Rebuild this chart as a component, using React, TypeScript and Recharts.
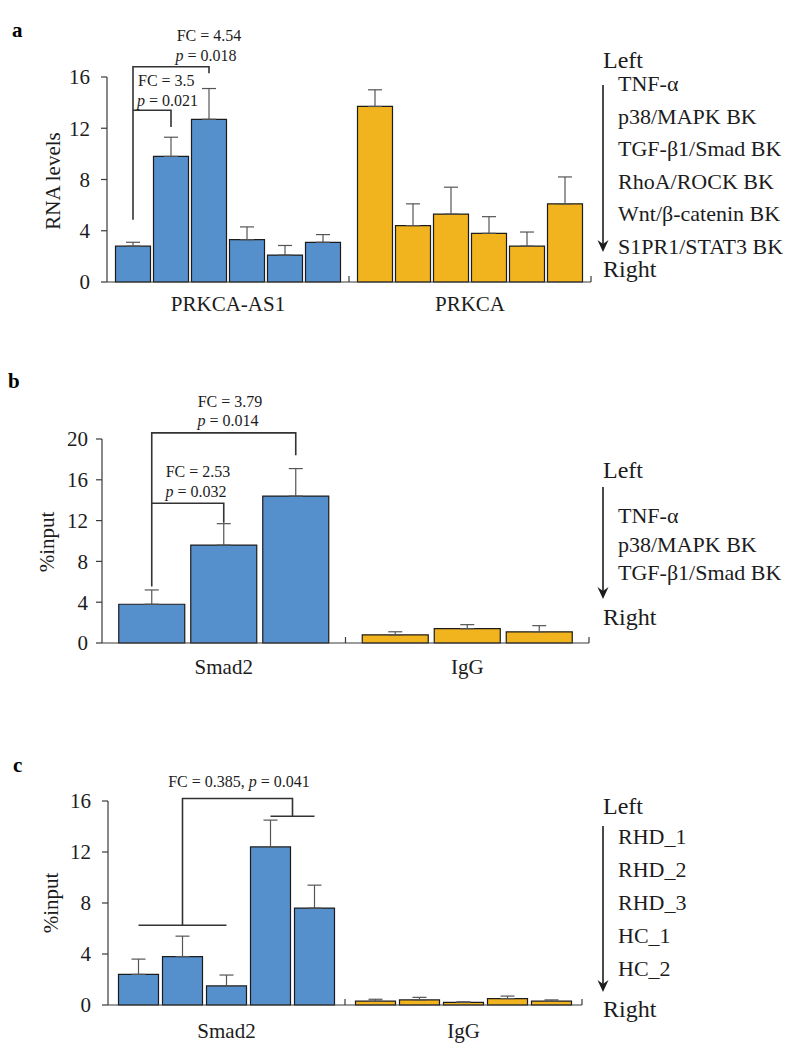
import React from 'react';
import { BarChart, Bar, XAxis, YAxis, ErrorBar, Cell } from 'recharts';

const FONT = '"Liberation Serif", "Times New Roman", serif';
const BLUE = '#5690CC';
const GOLD = '#F2B41E';
const INK = '#1c1c1c';
const AXIS = '#3a3a3a';
const WHISKER = '#555555';
const groupColors = [BLUE, GOLD];

// panel a: RNA levels of PRKCA-AS1 and PRKCA per treatment
const aGroups = ['PRKCA-AS1', 'PRKCA'];
const aTreatments = ['TNF-α', 'p38/MAPK BK', 'TGF-β1/Smad BK', 'RhoA/ROCK BK', 'Wnt/β-catenin BK', 'S1PR1/STAT3 BK'];
const aAs1Mean = [2.8, 9.8, 12.7, 3.3, 2.1, 3.1];
const aAs1Err = [0.3, 1.5, 2.4, 1.0, 0.75, 0.6];
const aPrkcaMean = [13.7, 4.4, 5.3, 3.8, 2.8, 6.1];
const aPrkcaErr = [1.3, 1.7, 2.1, 1.3, 1.1, 2.1];
const aTicks = [0, 4, 8, 12, 16];

// panel b: ChIP, %input
const bGroups = ['Smad2', 'IgG'];
const bTreatments = ['TNF-α', 'p38/MAPK BK', 'TGF-β1/Smad BK'];
const bSmad2Mean = [3.8, 9.6, 14.4];
const bSmad2Err = [1.4, 2.1, 2.7];
const bIgGMean = [0.8, 1.4, 1.1];
const bIgGErr = [0.3, 0.4, 0.6];
const bTicks = [0, 4, 8, 12, 16, 20];

// panel c: ChIP in patient samples
const cGroups = ['Smad2', 'IgG'];
const cSamples = ['RHD_1', 'RHD_2', 'RHD_3', 'HC_1', 'HC_2'];
const cSmad2Mean = [2.4, 3.8, 1.5, 12.4, 7.6];
const cSmad2Err = [1.2, 1.6, 0.85, 2.1, 1.8];
const cIgGMean = [0.3, 0.4, 0.2, 0.5, 0.3];
const cIgGErr = [0.15, 0.2, 0.05, 0.2, 0.1];
const cTicks = [0, 4, 8, 12, 16];

const buildRows = (groups: string[], means: number[][], errs: number[][]) =>
  groups.map((g, gi) => {
    const row: any = { group: g };
    means[gi].forEach((v, i) => {
      row[`v${i}`] = v;
      row[`e${i}`] = [0, errs[gi][i]];
    });
    return row;
  });

type Layout = {
  top: number; height: number;
  plotTop: number; plotBottom: number; plotLeft: number; plotRight: number;
  yMax: number; n: number; barGap: number; catGap: number; tickMargin: number; labelDy: number;
};

const A: Layout = { top: 0, height: 330, plotTop: 77, plotBottom: 282, plotLeft: 107, plotRight: 591, yMax: 16, n: aTreatments.length, barGap: 3, catGap: 8.5, tickMargin: 11, labelDy: 29 };
const B: Layout = { top: 360, height: 330, plotTop: 439, plotBottom: 643, plotLeft: 102, plotRight: 589, yMax: 20, n: bTreatments.length, barGap: 6, catGap: 16.75, tickMargin: 8, labelDy: 31 };
const C: Layout = { top: 730, height: 327, plotTop: 801, plotBottom: 1005, plotLeft: 108, plotRight: 582, yMax: 16, n: cSamples.length, barGap: 4, catGap: 10.5, tickMargin: 11, labelDy: 33 };

// same geometry recharts uses for grouped bars in a band
const barX = (L: Layout, g: number, i: number) => {
  const catW = (L.plotRight - L.plotLeft) / 2;
  const bw = Math.floor((catW - 2 * L.catGap - (L.n - 1) * L.barGap) / L.n);
  return L.plotLeft + g * catW + L.catGap + i * (bw + L.barGap) + bw / 2;
};
const valY = (L: Layout, v: number) => L.plotBottom - (v / L.yMax) * (L.plotBottom - L.plotTop);

const GroupTick = (props: any) => {
  const { x, y, payload, half, dy } = props;
  return (
    <g>
      <line x1={x + half} x2={x + half} y1={y} y2={y - 6} stroke={AXIS} strokeWidth={1.2} />
      <text x={x} y={y + dy} textAnchor="middle" fontFamily={FONT} fontSize={21} fill={INK}>
        {payload.value}
      </text>
    </g>
  );
};

const Panel = ({ L, rows, ticks }: { L: Layout; rows: any[]; ticks: number[] }) => {
  const half = (L.plotRight - L.plotLeft) / rows.length / 2;
  return (
    <div style={{ position: 'absolute', left: 0, top: L.top }}>
      <BarChart
        width={800}
        height={L.height}
        data={rows}
        margin={{ top: L.plotTop - L.top, right: 800 - L.plotRight, left: 0, bottom: L.height - (L.plotBottom - L.top) - 30 }}
        barGap={L.barGap}
        barCategoryGap={L.catGap}
      >
        <XAxis
          dataKey="group"
          height={30}
          axisLine={{ stroke: AXIS, strokeWidth: 1.2 }}
          tickLine={false}
          tickSize={0}
          tickMargin={0}
          interval={0}
          tick={<GroupTick half={half} dy={L.labelDy} />}
        />
        <YAxis
          type="number"
          domain={[0, L.yMax]}
          ticks={ticks}
          width={L.plotLeft}
          tickSize={6}
          tickMargin={L.tickMargin}
          axisLine={{ stroke: AXIS, strokeWidth: 1.2 }}
          tickLine={{ stroke: AXIS, strokeWidth: 1.2 }}
          tick={{ fontSize: 21, fontFamily: FONT, fill: INK }}
        />
        {Array.from({ length: L.n }).map((_, i) => (
          <Bar key={i} dataKey={`v${i}`} stroke={INK} strokeWidth={1.2} isAnimationActive={false}>
            {rows.map((_r, gi) => (
              <Cell key={gi} fill={groupColors[gi]} />
            ))}
            <ErrorBar dataKey={`e${i}`} direction="y" width={7} stroke={WHISKER} strokeWidth={1.2} isAnimationActive={false} />
          </Bar>
        ))}
      </BarChart>
    </div>
  );
};

const Legend = ({ x, leftY, arrowTop, arrowTip, items, rightY }: any) => (
  <g fontFamily={FONT} fill={INK}>
    <text x={x} y={leftY} fontSize={24}>Left</text>
    <line x1={x} x2={x} y1={arrowTop} y2={arrowTip - 8} stroke={INK} strokeWidth={1.6} />
    <polygon points={`${x - 5.5},${arrowTip - 12} ${x},${arrowTip - 8} ${x + 5.5},${arrowTip - 12} ${x},${arrowTip}`} fill={INK} />
    {items.map((it: any) => (
      <text key={it.label} x={x + 15} y={it.y} fontSize={22}>{it.label}</text>
    ))}
    <text x={x} y={rightY} fontSize={24}>Right</text>
  </g>
);

const Stat = ({ x, y, fc, anchor = 'middle' }: any) => (
  <text x={x} y={y} textAnchor={anchor} fontFamily={FONT} fontSize={16} fill={INK}>
    {fc}
  </text>
);

const PText = ({ x, y, p, anchor = 'middle' }: any) => (
  <text x={x} y={y} textAnchor={anchor} fontFamily={FONT} fontSize={16} fill={INK}>
    <tspan fontStyle="italic">p</tspan> = {p}
  </text>
);

const Overlay = () => {
  const s = { stroke: '#333', strokeWidth: 1.6, fill: 'none' };
  const a0 = barX(A, 0, 0), a1 = barX(A, 0, 1), a2 = barX(A, 0, 2);
  const b0 = barX(B, 0, 0), b1 = barX(B, 0, 1), b2 = barX(B, 0, 2);
  const c0 = barX(C, 0, 0), c1 = barX(C, 0, 1), c2 = barX(C, 0, 2), c3 = barX(C, 0, 3), c4 = barX(C, 0, 4);
  const cMid = (c3 + c4) / 2;
  return (
    <svg width={800} height={1057} style={{ position: 'absolute', left: 0, top: 0, pointerEvents: 'none' }}>
      <g fontFamily={FONT} fontWeight="bold" fontSize={21} fill="#000">
        <text x={12} y={37}>a</text>
        <text x={8} y={388}>b</text>
        <text x={13} y={772}>c</text>
      </g>
      <g fontFamily={FONT} fontSize={21} fill={INK} textAnchor="middle">
        <text transform={`translate(60,181) rotate(-90)`}>RNA levels</text>
        <text transform={`translate(54,542) rotate(-90)`}>%input</text>
        <text transform={`translate(58,903) rotate(-90)`}>%input</text>
      </g>

      {/* a */}
      <polyline {...s} points={`${a0},${valY(A, 4.85)} ${a0},${valY(A, 16.8)} ${a2},${valY(A, 16.8)} ${a2},${valY(A, 16.3)}`} />
      <polyline {...s} points={`${a0},${valY(A, 13.4)} ${a1},${valY(A, 13.4)} ${a1},${valY(A, 12.1)}`} />
      <Stat x={209} y={41} fc="FC = 4.54" />
      <PText x={206} y={61} p="0.018" />
      <Stat x={138} y={86} fc="FC = 3.5" anchor="start" />
      <PText x={137} y={106} p="0.021" anchor="start" />

      {/* b */}
      <polyline {...s} points={`${b0},${valY(B, 5.55)} ${b0},${valY(B, 20.6)} ${b2},${valY(B, 20.6)} ${b2},${valY(B, 18.4)}`} />
      <polyline {...s} points={`${b0},${valY(B, 13.7)} ${b1},${valY(B, 13.7)} ${b1},${valY(B, 11.8)}`} />
      <Stat x={230} y={407} fc="FC = 3.79" />
      <PText x={228} y={426} p="0.014" />
      <Stat x={198} y={477} fc="FC = 2.53" />
      <PText x={196} y={497} p="0.032" />

      {/* c */}
      <line {...s} x1={c0} x2={c2} y1={valY(C, 6.25)} y2={valY(C, 6.25)} />
      <polyline {...s} points={`${c1},${valY(C, 6.25)} ${c1},${valY(C, 16.2)} ${cMid},${valY(C, 16.2)} ${cMid},${valY(C, 14.8)}`} />
      <line {...s} x1={c3} x2={c4} y1={valY(C, 14.8)} y2={valY(C, 14.8)} />
      <text x={239} y={787} textAnchor="middle" fontFamily={FONT} fontSize={16} fill={INK}>
        FC = 0.385, <tspan fontStyle="italic">p</tspan> = 0.041
      </text>

      <Legend x={603} leftY={68} arrowTop={85} arrowTip={252} rightY={277}
        items={aTreatments.map((t, i) => ({ label: t, y: 91 + 32.6 * i }))} />
      <Legend x={603} leftY={478} arrowTop={487} arrowTip={599} rightY={625}
        items={bTreatments.map((t, i) => ({ label: t, y: 523 + 28.5 * i }))} />
      <Legend x={603} leftY={814} arrowTop={826} arrowTip={992} rightY={1017}
        items={cSamples.map((t, i) => ({ label: t, y: 844 + 33 * i }))} />
    </svg>
  );
};

export default function App() {
  const aRows = buildRows(aGroups, [aAs1Mean, aPrkcaMean], [aAs1Err, aPrkcaErr]);
  const bRows = buildRows(bGroups, [bSmad2Mean, bIgGMean], [bSmad2Err, bIgGErr]);
  const cRows = buildRows(cGroups, [cSmad2Mean, cIgGMean], [cSmad2Err, cIgGErr]);
  return (
    <div style={{ position: 'absolute', left: 0, top: 0, width: 800, height: 1057, background: '#fff', overflow: 'hidden' }}>
      <Panel L={A} rows={aRows} ticks={aTicks} />
      <Panel L={B} rows={bRows} ticks={bTicks} />
      <Panel L={C} rows={cRows} ticks={cTicks} />
      <Overlay />
    </div>
  );
}
